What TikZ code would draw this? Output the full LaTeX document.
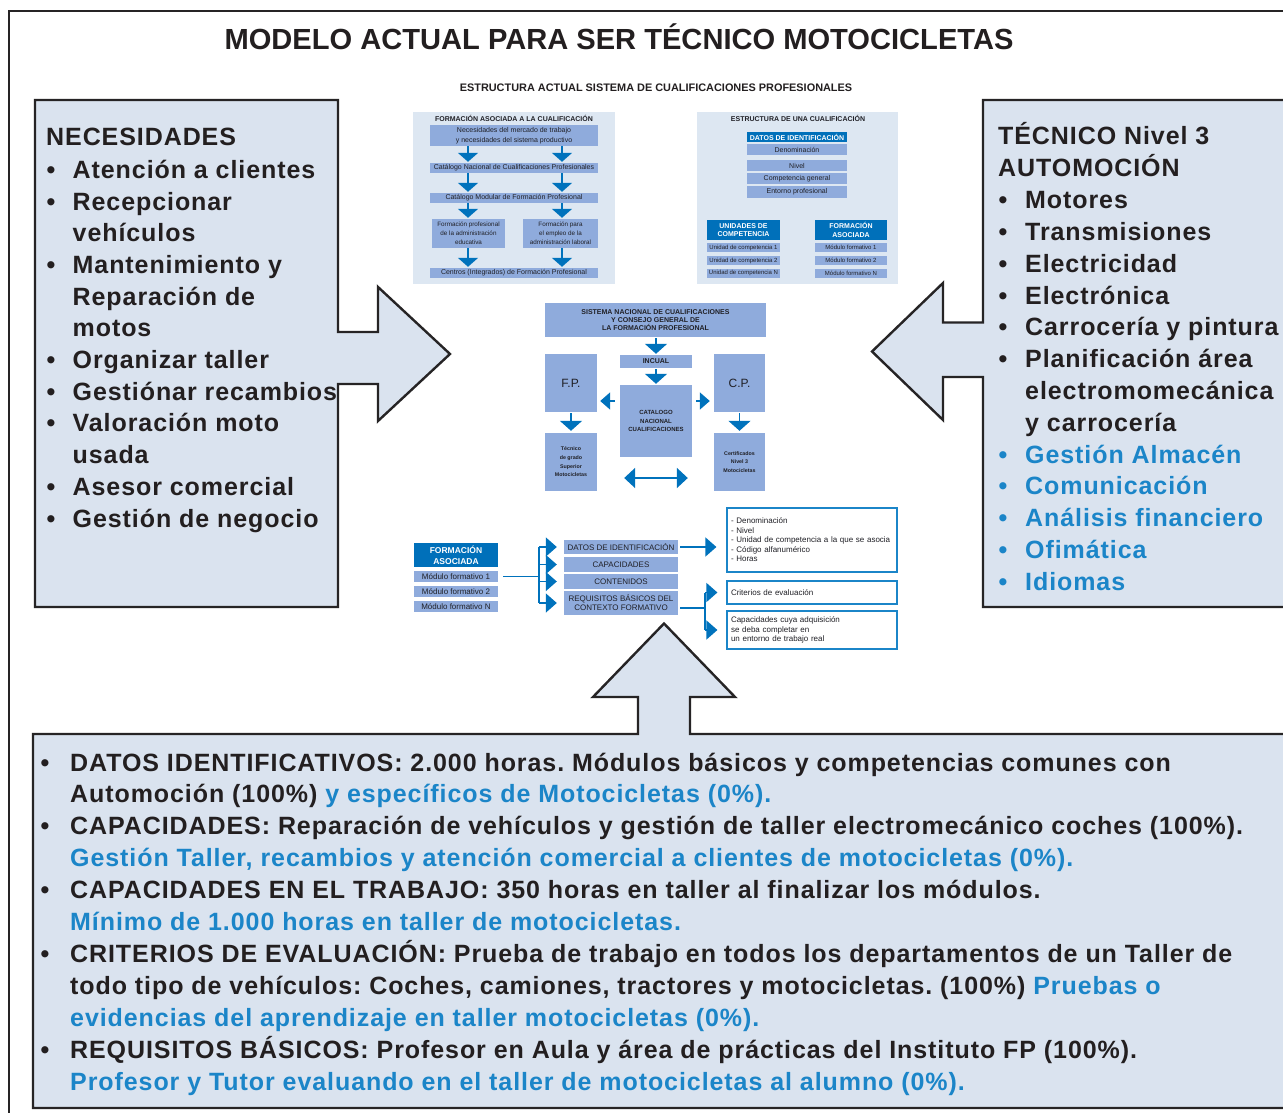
\documentclass[tikz,border=0pt]{standalone}
\usepackage{fontspec}
\setmainfont{Liberation Sans}
\newfontfamily\bigfont{Liberation Sans}[LetterSpace=3.7]
\usetikzlibrary{arrows.meta}
\definecolor{boxfill}{RGB}{218,227,239}
\definecolor{outl}{RGB}{38,36,37}
\definecolor{txt}{RGB}{35,31,32}
\definecolor{tblue}{RGB}{27,133,200}
\definecolor{panel}{RGB}{221,231,242}
\definecolor{mblue}{RGB}{143,171,220}
\definecolor{dblue}{RGB}{0,112,186}
\definecolor{ablue}{RGB}{0,114,188}
\definecolor{stxt}{RGB}{32,32,38}
\newcommand\mybul[1][26pt]{\makebox[#1][l]{•}}
\frenchspacing
\begin{document}
\begin{tikzpicture}[x=1pt,y=-1pt,
  bigshape/.style={fill=boxfill,draw=outl,line width=2.4pt,line join=miter},
  bigt/.style={anchor=base west,inner sep=0,text=txt,font=\bigfont\bfseries\fontsize{25}{30}\selectfont},
  bigb/.style={bigt,text=tblue},
  panelbg/.style={fill=panel,inner sep=0},
  ttl/.style={inner sep=0,text=stxt,font=\bfseries\fontsize{7}{8}\selectfont},
  sb/.style={fill=mblue,inner sep=0,text=stxt,align=center,font=\fontsize{7}{9}\selectfont},
  sbb/.style={sb,font=\bfseries\fontsize{7}{8.3}\selectfont},
  db/.style={fill=dblue,inner sep=0,text=white,align=center,font=\bfseries\fontsize{7}{8.5}\selectfont},
  wb/.style={draw=tblue,line width=1.2pt,fill=white,inner xsep=4pt,inner ysep=0pt,text width=162pt,align=left,text=stxt,font=\fontsize{8}{9.5}\selectfont},
  tri/.style={draw=ablue,line width=1.8pt,-{Triangle[width=20pt,length=9pt]}},
  trib/.style={draw=ablue,line width=1.8pt,-{Triangle[width=22pt,length=10pt]}},
  tris/.style={draw=ablue,line width=1.8pt,-{Triangle[width=17pt,length=10pt]}},
  tri2/.style={draw=ablue,line width=1.5pt,-{Triangle[width=19pt,length=11pt]}},
  dbl/.style={draw=ablue,line width=2pt,{Triangle[width=20pt,length=11pt]}-{Triangle[width=20pt,length=11pt]}},
  bl/.style={draw=ablue,line width=1.3pt}]
\useasboundingbox (0,0) rectangle (1283,1113);
\fill[white] (0,0) rectangle (1283,1113);
\draw[outl,line width=2pt] (9,11) rectangle (1310,1140);

% title
\node[anchor=base,inner sep=0,text=txt,font=\bfseries\fontsize{29.1}{34}\selectfont] (title) at (619,50) {MODELO ACTUAL PARA SER TÉCNICO MOTOCICLETAS};
\node[anchor=base,inner sep=0,text=txt,font=\bfseries\fontsize{10.9}{13}\selectfont] (hdr) at (656,92) {ESTRUCTURA ACTUAL SISTEMA DE CUALIFICACIONES PROFESIONALES};

% big shapes
\draw[bigshape] (35,100) -- (338,100) -- (338,332) -- (378,332) -- (378,287) -- (450,354) -- (378,421) -- (378,384) -- (338,384) -- (338,607) -- (35,607) -- cycle;
\draw[bigshape] (1310,100) -- (983,100) -- (983,322.5) -- (943,322.5) -- (943,283) -- (872,351.5) -- (943,420) -- (943,377) -- (983,377) -- (983,607) -- (1310,607);
\draw[bigshape] (33,734) -- (638,734) -- (638,697) -- (593,697) -- (664,623.5) -- (735,697) -- (690,697) -- (690,734) -- (1310,734) -- (1310,1108) -- (33,1108) -- cycle;

% left list
\node[bigt] (nt) at (46,145.5) {NECESIDADES};
\node[bigt] (n1) at (46.5,178.3) {\mybul Atención a clientes};
\node[bigt] (n2) at (46.5,210.0) {\mybul Recepcionar};
\node[bigt] (n3) at (72.5,241.7) {vehículos};
\node[bigt] (n4) at (46.5,273.4) {\mybul Mantenimiento y};
\node[bigt] (n5) at (72.5,305.1) {Reparación de};
\node[bigt] (n6) at (72.5,336.8) {motos};
\node[bigt] (n7) at (46.5,368.5) {\mybul Organizar taller};
\node[bigt] (n8) at (46.5,400.2) {\mybul Gestiónar recambios};
\node[bigt] (n9) at (46.5,431.9) {\mybul Valoración moto};
\node[bigt] (n10) at (72.5,463.6) {usada};
\node[bigt] (n11) at (46.5,495.3) {\mybul Asesor comercial};
\node[bigt] (n12) at (46.5,527.0) {\mybul Gestión de negocio};

% right list
\node[bigt] (r0) at (998,145) {TÉCNICO Nivel 3};
\node[bigt] (r1) at (998,176.8) {AUTOMOCIÓN};
\node[bigt] (r2) at (998.5,208.6) {\mybul[26.5pt]Motores};
\node[bigt] (r3) at (998.5,240.4) {\mybul[26.5pt]Transmisiones};
\node[bigt] (r4) at (998.5,272.2) {\mybul[26.5pt]Electricidad};
\node[bigt] (r5) at (998.5,304.0) {\mybul[26.5pt]Electrónica};
\node[bigt] (r6) at (998.5,335.8) {\mybul[26.5pt]Carrocería y pintura};
\node[bigt] (r7) at (998.5,367.6) {\mybul[26.5pt]Planificación área};
\node[bigt] (r8) at (1025,399.4) {electromomecánica};
\node[bigt] (r9) at (1025,431.2) {y carrocería};
\node[bigb] (r10) at (998.5,463.0) {\mybul[26.5pt]Gestión Almacén};
\node[bigb] (r11) at (998.5,494.8) {\mybul[26.5pt]Comunicación};
\node[bigb] (r12) at (998.5,526.6) {\mybul[26.5pt]Análisis financiero};
\node[bigb] (r13) at (998.5,558.4) {\mybul[26.5pt]Ofimática};
\node[bigb] (r14) at (998.5,590.2) {\mybul[26.5pt]Idiomas};

% bottom list
\node[bigt] (t1) at (40.5,771) {\mybul[29.5pt]DATOS IDENTIFICATIVOS: 2.000 horas. Módulos básicos y competencias comunes con};
\node[bigt] (t2) at (70,802.9) {Automoción (100\%) {\color{tblue}y específicos de Motocicletas (0\%).}};
\node[bigt] (t3) at (40.5,834.8) {\mybul[29.5pt]CAPACIDADES: Reparación de vehículos y gestión de taller electromecánico coches (100\%).};
\node[bigb] (t4) at (70,866.7) {Gestión Taller, recambios y atención comercial a clientes de motocicletas (0\%).};
\node[bigt] (t5) at (40.5,898.6) {\mybul[29.5pt]CAPACIDADES EN EL TRABAJO: 350 horas en taller al finalizar los módulos.};
\node[bigb] (t6) at (70,930.5) {Mínimo de 1.000 horas en taller de motocicletas.};
\node[bigt] (t7) at (40.5,962.4) {\mybul[29.5pt]CRITERIOS DE EVALUACIÓN: Prueba de trabajo en todos los departamentos de un Taller de};
\node[bigt] (t8) at (70,994.3) {todo tipo de vehículos: Coches, camiones, tractores y motocicletas. (100\%) {\color{tblue}Pruebas o}};
\node[bigb] (t9) at (70,1026.2) {evidencias del aprendizaje en taller motocicletas (0\%).};
\node[bigt] (t10) at (40.5,1058.1) {\mybul[29.5pt]REQUISITOS BÁSICOS: Profesor en Aula y área de prácticas del Instituto FP (100\%).};
\node[bigb] (t11) at (70,1090) {Profesor y Tutor evaluando en el taller de motocicletas al alumno (0\%).};

% ---------- panel 1
\node[panelbg,minimum width=202pt,minimum height=172pt] (p1) at (514,198) {};
\node[ttl] (p1t) at (514,118.5) {FORMACIÓN ASOCIADA A LA CUALIFICACIÓN};
\node[sb,minimum width=168pt,minimum height=21pt,font=\fontsize{7}{10.5}\selectfont] (a1) at (514,135.5) {Necesidades del mercado de trabajo\\y necesidades del sistema productivo};
\node[sb,minimum width=168pt,minimum height=10pt] (a2) at (514,168) {Catálogo Nacional de Cualificaciones Profesionales};
\node[sb,minimum width=168pt,minimum height=10pt] (a3) at (514,198) {Catálogo Modular de Formación Profesional};
\node[sb,minimum width=73pt,minimum height=29pt,font=\fontsize{6.3}{8.9}\selectfont] (a4) at (468.5,233.5) {Formación profesional\\de la administración\\educativa};
\node[sb,minimum width=75pt,minimum height=29pt,font=\fontsize{6.3}{8.9}\selectfont] (a5) at (560.5,233.5) {Formación para\\el empleo de la\\administración laboral};
\node[sb,minimum width=168pt,minimum height=10pt] (a6) at (514,273) {Centros (Integrados) de Formación Profesional};
\coordinate (c1) at (468,0);
\coordinate (c2) at (562,0);
\draw[tri,shorten >=1pt] (a1.south -| c1) -- (a2.north -| c1);
\draw[tri,shorten >=1pt] (a1.south -| c2) -- (a2.north -| c2);
\draw[tri,shorten >=1pt] (a2.south -| c1) -- (a3.north -| c1);
\draw[tri,shorten >=1pt] (a2.south -| c2) -- (a3.north -| c2);
\draw[tri,shorten >=1pt] (a3.south -| c1) -- (a4.north -| c1);
\draw[tri,shorten >=1pt] (a3.south -| c2) -- (a5.north -| c2);
\draw[tri,shorten >=1pt] (a4.south -| c1) -- (a6.north -| c1);
\draw[tri,shorten >=1pt] (a5.south -| c2) -- (a6.north -| c2);

% ---------- panel 2
\node[panelbg,minimum width=201pt,minimum height=172pt] (p2) at (797.5,198) {};
\node[ttl] (p2t) at (798,118.5) {ESTRUCTURA DE UNA CUALIFICACIÓN};
\node[db,minimum width=100pt,minimum height=10pt] (b0) at (797,137) {DATOS DE IDENTIFICACIÓN};
\node[sb,minimum width=100pt,minimum height=11pt] (b1) at (797,149.5) {Denominación};
\node[sb,minimum width=100pt,minimum height=11pt] (b2) at (797,165.5) {Nivel};
\node[sb,minimum width=100pt,minimum height=11pt] (b3) at (797,178.5) {Competencia general};
\node[sb,minimum width=100pt,minimum height=11pt] (b4) at (797,192) {Entorno profesional};
\node[db,minimum width=73pt,minimum height=20pt] (b5) at (743.5,230) {UNIDADES DE\\COMPETENCIA};
\node[db,minimum width=72pt,minimum height=20pt] (b6) at (851,230) {FORMACIÓN\\ASOCIADA};
\node[sb,minimum width=73pt,minimum height=9pt,font=\fontsize{6}{7}\selectfont] (u1) at (743.5,247.5) {Unidad de competencia 1};
\node[sb,minimum width=73pt,minimum height=9pt,font=\fontsize{6}{7}\selectfont] (u2) at (743.5,260.5) {Unidad de competencia 2};
\node[sb,minimum width=73pt,minimum height=9pt,font=\fontsize{6}{7}\selectfont] (u3) at (743.5,273) {Unidad de competencia N};
\node[sb,minimum width=72pt,minimum height=9pt,font=\fontsize{6}{7}\selectfont] (m1) at (851,247.5) {Módulo formativo 1};
\node[sb,minimum width=72pt,minimum height=9pt,font=\fontsize{6}{7}\selectfont] (m2) at (851,260.5) {Módulo formativo 2};
\node[sb,minimum width=72pt,minimum height=9pt,font=\fontsize{6}{7}\selectfont] (m3) at (851,273) {Módulo formativo N};

% ---------- centre diagram
\node[sbb,minimum width=221pt,minimum height=34pt] (s1) at (655.5,320) {SISTEMA NACIONAL DE CUALIFICACIONES\\Y CONSEJO GENERAL DE\\LA FORMACIÓN PROFESIONAL};
\node[sbb,minimum width=72pt,minimum height=13pt] (s2) at (656,361.5) {INCUAL};
\node[sbb,minimum width=72pt,minimum height=72pt,font=\bfseries\fontsize{6}{8.7}\selectfont] (s3) at (656,421) {CATALOGO\\NACIONAL\\CUALIFICACIONES};
\node[sb,minimum width=52pt,minimum height=58pt,font=\fontsize{12}{14}\selectfont] (fp) at (571,383) {F.P.};
\node[sb,minimum width=51pt,minimum height=58pt,font=\fontsize{12}{14}\selectfont] (cp) at (739.5,383) {C.P.};
\node[sbb,minimum width=52pt,minimum height=58pt,font=\bfseries\fontsize{5.3}{8.7}\selectfont] (tg) at (571,462) {Técnico\\de grado\\Superior\\Motocicletas};
\node[sbb,minimum width=51pt,minimum height=58pt,font=\bfseries\fontsize{5.3}{8.7}\selectfont] (ce) at (739.5,462) {Certificados\\Nivel 3\\Motocicletas};
\draw[trib,shorten <=1pt,shorten >=1pt] (s1.south -| s2) -- (s2.north);
\draw[trib,shorten <=1pt,shorten >=1pt] (s2.south) -- (s3.north);
\draw[tris,shorten <=5pt,shorten >=3pt] ([yshift=20pt]s3.west) -- ([yshift=-18pt]fp.east);
\draw[tris,shorten <=4pt,shorten >=4pt] ([yshift=20pt]s3.east) -- ([yshift=-18pt]cp.west);
\draw[trib,shorten <=1pt,shorten >=2pt] (fp.south) -- (tg.north);
\draw[trib,shorten <=1pt,shorten >=2pt] (cp.south -| ce) -- (ce.north);
\draw[dbl,shorten <=27pt,shorten >=26pt] ([yshift=-16pt]tg.east) -- ([yshift=-16pt]ce.west);

% ---------- bottom small diagram
\node[db,minimum width=84pt,minimum height=24pt,font=\bfseries\fontsize{8.5}{11}\selectfont] (f0) at (456,555) {FORMACIÓN\\ASOCIADA};
\node[sb,minimum width=84pt,minimum height=11pt,font=\fontsize{8}{9}\selectfont] (f1) at (456,576.5) {Módulo formativo 1};
\node[sb,minimum width=84pt,minimum height=11pt,font=\fontsize{8}{9}\selectfont] (f2) at (456,591.5) {Módulo formativo 2};
\node[sb,minimum width=84pt,minimum height=11pt,font=\fontsize{8}{9}\selectfont] (f3) at (456,606.5) {Módulo formativo N};
\node[sb,minimum width=114pt,minimum height=14pt,font=\fontsize{8}{9}\selectfont] (d1) at (621,547) {DATOS DE IDENTIFICACIÓN};
\node[sb,minimum width=114pt,minimum height=15pt,font=\fontsize{8}{9}\selectfont] (d2) at (621,564.5) {CAPACIDADES};
\node[sb,minimum width=114pt,minimum height=15pt,font=\fontsize{8}{9}\selectfont] (d3) at (621,581.5) {CONTENIDOS};
\node[sb,minimum width=114pt,minimum height=24pt,font=\fontsize{8}{9}\selectfont] (d4) at (621,603) {REQUISITOS BÁSICOS DEL\\CONTEXTO FORMATIVO};
\node[wb,minimum height=64pt] (e1) at (812,540) {- Denominación\\- Nivel\\- Unidad de competencia a la que se asocia\\- Código alfanumérico\\- Horas};
\node[wb,minimum height=23pt] (e2) at (812,592.5) {Criterios de evaluación};
\node[wb,minimum height=38pt] (e3) at (812,630) {Capacidades cuya adquisición\\se deba completar en\\un entorno de trabajo real};
\coordinate (br1) at (539,575);
\coordinate (br2) at (705,608);
\draw[bl,shorten <=5pt] (f1.east) -- (f1.east -| br1);
\draw[bl] (d1.west -| br1) -- (d4.west -| br1);
\draw[tri2,shorten >=7pt] (d1.west -| br1) -- (d1.west);
\draw[tri2,shorten >=7pt] (d2.west -| br1) -- (d2.west);
\draw[tri2,shorten >=7pt] (d3.west -| br1) -- (d3.west);
\draw[tri2,shorten >=7pt] (d4.west -| br1) -- (d4.west);
\draw[tri2,shorten <=2pt,shorten >=10pt] (d1.east) -- (d1.east -| e1.west);
\draw[bl,shorten <=2pt] ([yshift=-5pt]d4.east) -- ([yshift=-5pt]d4.east -| br2);
\draw[bl] (e2.west -| br2) -- (e3.west -| br2);
\draw[tri2,shorten >=9pt] (e2.west -| br2) -- (e2.west);
\draw[tri2,shorten >=9pt] (e3.west -| br2) -- (e3.west);
\end{tikzpicture}
\end{document}
